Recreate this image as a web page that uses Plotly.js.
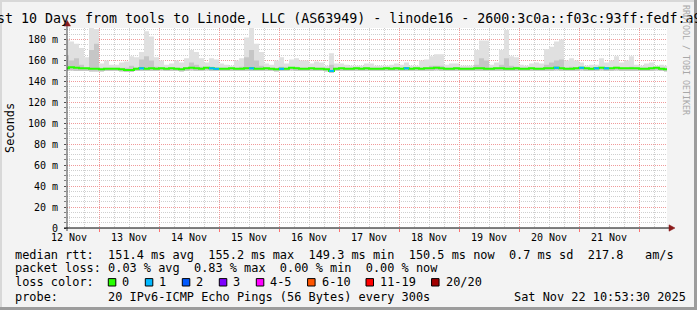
<!DOCTYPE html>
<html><head><meta charset="utf-8">
<script src="https://cdn.plot.ly/plotly-3.0.1.min.js"></script>
<style>html,body{margin:0;padding:0;background:#f3f3f3;overflow:hidden}</style>
</head><body><div id="chart" style="width:697px;height:310px"></div>
<script>
// ---------- data (2-hour buckets starting 2025-11-12 10:00) ----------
const medianRtt = [
 152.5,153.5,153,152.5,152.5,152,152,151.5,152,152,
 152,151.5,151,151,152,152.5,152,152.5,152,152.5,
 152,152.5,152,151.5,152.5,153,152.5,152,153,152.5,
 152,152,152,152.5,152,152,152.5,152.5,152,152,
 152.5,152,151.5,152,152,153,152.5,152,152,152.5,
 152,152,151.5,150,152,152.5,152,152,152.5,152,
 152.5,152,152,152,152.5,152,152.5,152,152.5,152,
 152.5,152,152.5,152.5,153,152.5,152,152,152.5,152,
 152,152,152.5,152.5,152,152,152.5,152.5,152,152,
 152.5,152,152,152.5,152,152,152.5,152.5,153,152.5,
 152,152,152.5,153,152.5,152,152.5,153,152.5,152.5,
 153,152.5,152.5,152.5,152.5,152,152,152.5,153,152,151.5];
const lowestPing = [
 150,150.5,150,150,150,149.5,149.5,149.5,150,150,
 150,149.5,149,149,150,150,150,150,150,150.5,
 150,150,150,149.5,150,150.5,150,150,150.5,150,
 150,150,150,150,150,150,150,150,150,150,
 150,150,149.5,150,150,150.5,150,150,150,150,
 150,150,149.5,148,150,150,150,150,150,150,
 150,150,150,150,150,150,150,150,150,150,
 150,150,150,150,150.5,150,150,150,150,150,
 150,150,150,150,150,150,150,150,150,150,
 150,150,150,150,150,150,150,150,150.5,150,
 150,150,150,150.5,150,150,150,150.5,150,150,
 150.5,150,150,150,150,150,150,150,150.5,150,149.5];
const innerSmokeTop = [
 165,160,162,156,153,170,176,153,153,153,
 153,153,153,155,153,161,164,160,154,153,
 153,153,153,153,153,158,156,154,153,154,
 153,153,153,153,153,154,163,170,160,155,
 153,153,153,154,153,153,154,153,153,153,
 153,153,153,156,153,153,153,153,153,153,
 153,153,153,153,153,153,153,153,153,153,
 153,153,153,155,155,155,153,153,153,153,
 153,153,156,162,160,153,153,156,162,155,
 154,153,153,153,153,153,156,158,160,161,
 153,154,153,153,153,153,153,154,153,153,
 154,153,153,154,153,153,153,153,153,153,153];
const highestPing = [
 180,178,176,172,163,191,190,157,160,156,
 156,158,159,164,163,168,188,183,163,160,
 156,157,160,158,162,170,168,162,158,162,
 161,157,156,155,160,162,182,191,176,168,
 157,156,160,163,157,161,162,160,160,157,
 159,158,155,167,157,157,156,155,155,155,
 157,157,155,155,155,156,157,156,158,155,
 155,160,161,164,166,166,156,157,157,155,
 155,155,170,179,179,156,158,170,189,164,
 163,156,155,157,158,157,171,173,178,180,
 160,162,160,158,155,156,156,162,158,160,
 164,158,160,164,156,155,157,158,155,156,155];
const lossCount = [
 0,0,0,0,0,0,0,0,0,0,
 0,0,0,0,0,1,0,0,0,0,
 0,0,0,0,0,0,0,0,0,1,
 1,0,0,0,0,0,0,1,0,0,
 0,0,0,1,0,0,0,0,0,0,
 0,0,0,1,0,0,0,0,0,0,
 0,0,0,0,0,0,0,0,1,0,
 0,0,0,0,0,0,0,0,0,0,
 0,0,0,0,0,0,0,0,0,0,
 0,0,0,0,0,0,0,0,1,0,
 0,0,0,1,0,0,1,0,1,0,
 0,0,0,0,0,0,0,0,0,0,0];
const yTickVals = [0,20,40,60,80,100,120,140,160,180];
const yTickText = ['0','20 m','40 m','60 m','80 m','100 m','120 m','140 m','160 m','180 m'];
const lossLegendLabels = ['0','1','2','3','4-5','6-10','11-19','20/20'];
const lossLegendColors = ['#26ff00','#00b8ff','#0059ff','#7e00ff','#ff00ff','#ff5500','#ff0000','#a10000'];
const titleText = 'Last 10 Days from tools to Linode, LLC (AS63949) - linode16 - 2600:3c0a::f03c:93ff:fedf:a9';
const statsLines = [
 'median rtt:  151.4 ms avg  155.2 ms max  149.3 ms min  150.5 ms now  0.7 ms sd  217.8   am/s',
 'packet loss: 0.03 % avg  0.83 % max  0.00 % min  0.00 % now',
 'loss color:',
 'probe:       20 IPv6-ICMP Echo Pings (56 Bytes) every 300s'];
const stampText = 'Sat Nov 22 10:53:30 2025';
const watermark = 'RRDTOOL / TOBI OETIKER';

// ---------- helpers ----------
const BASE = Date.UTC(2025,10,12,10,0,0), STEP = 2*3600000;
function ts(k){ return new Date(BASE + k*STEP).toISOString().slice(0,19).replace('T',' '); }
const n = medianRtt.length;
const times = []; for (let k=0;k<=n;k++) times.push(ts(k));
const close = a => a.concat([a[a.length-1]]);

const L=67, T=28, W=600, H=200;
const PX = p => (p-L)/W, PY = p => (T+H-p)/H;
const nb = s => s.replace(/ /g,'\u00a0');
const MONO = 'DejaVu Sans Mono';

function lossColor(c){
  if (c<=0) return lossLegendColors[0];
  if (c===1) return lossLegendColors[1];
  if (c===2) return lossLegendColors[2];
  if (c===3) return lossLegendColors[3];
  if (c<=5) return lossLegendColors[4];
  if (c<=10) return lossLegendColors[5];
  if (c<=19) return lossLegendColors[6];
  return lossLegendColors[7];
}

const stepLine = {shape:'hv', width:0};
const traces = [
 {x:times, y:close(lowestPing), mode:'lines', line:stepLine, hoverinfo:'skip'},
 {x:times, y:close(highestPing), mode:'lines', line:stepLine, fill:'tonexty', fillcolor:'#e0e0e0', hoverinfo:'skip'},
 {x:times, y:close(lowestPing), mode:'lines', line:stepLine, hoverinfo:'skip'},
 {x:times, y:close(innerSmokeTop), mode:'lines', line:stepLine, fill:'tonexty', fillcolor:'#c6c6c6', hoverinfo:'skip'},
 {x:times, y:close(medianRtt), mode:'lines', line:{shape:'hv', width:2, color:lossLegendColors[0]}, hoverinfo:'skip'}
];
const segs = {};
lossCount.forEach((c,k)=>{
  if (c>0){
    const col = lossColor(c);
    segs[col] = segs[col] || {x:[],y:[]};
    segs[col].x.push(times[k], times[k+1], null);
    segs[col].y.push(medianRtt[k], medianRtt[k], null);
  }
});
Object.keys(segs).forEach(col=>traces.push({x:segs[col].x, y:segs[col].y, mode:'lines', line:{width:2,color:col}, hoverinfo:'skip', connectgaps:false}));

// ---------- annotations ----------
const anns = [];
function ann(px, py, text, o){
  anns.push(Object.assign({xref:'paper', yref:'paper', x:PX(px), y:PY(py), text:nb(text), showarrow:false,
    xanchor:'left', yanchor:'middle', borderpad:0, font:{family:MONO, size:11.9, color:'#000'}}, o||{}));
}
ann(-20.5, 18.5, titleText, {font:{family:MONO, size:13.3, color:'#000'}});
ann(10, 128, 'Seconds', {xanchor:'center', textangle:-90});
ann(686, 60, watermark, {xanchor:'center', textangle:90, font:{family:MONO, size:8.3, color:'#a8a8a8'}});
const lineY = [254.5, 268, 282.3, 296.5];
statsLines.forEach((s,i)=>ann(13.5, lineY[i], s));
ann(513, lineY[3], stampText);

// ---------- shapes ----------
const shapes = [];
function rect(x0,y0,x1,y1,fill,lineCol,lw){
  shapes.push({type:'rect', xref:'paper', yref:'paper', x0:PX(x0), x1:PX(x1), y0:PY(y1), y1:PY(y0),
    fillcolor:fill, line:{color:lineCol||fill, width:lw||0}, layer:'above'});
}
// frame
rect(0,0,697,2,'#d8d8d8');
rect(0,0,2,310,'#d8d8d8');
rect(694,0,697,310,'#9c9c9c');
rect(0,307,697,310,'#9c9c9c');
// axis arrows
function path(pts, col){
  const d = pts.map((p,i)=>(i?'L':'M')+PX(p[0])+','+PY(p[1])).join(' ')+' Z';
  shapes.push({type:'path', xref:'paper', yref:'paper', path:d, fillcolor:col, line:{color:col, width:0.5}, layer:'above'});
}
shapes.push({type:'line', xref:'paper', yref:'paper', x0:PX(67), x1:PX(67), y0:PY(231), y1:PY(25), line:{color:'#404040', width:1}});
shapes.push({type:'line', xref:'paper', yref:'paper', x0:PX(64), x1:PX(671), y0:PY(228), y1:PY(228), line:{color:'#000', width:1}});
path([[64,26],[70.5,26],[67.2,20.5]], '#8b1a1a');
path([[669,224.8],[669,231.2],[675,228]], '#8b1a1a');
// loss legend boxes + labels
let bx = 108.3;
lossLegendLabels.forEach((lab,i)=>{
  rect(bx, 278.6, bx+7.5, 286, lossLegendColors[i], '#000', 1);
  ann(bx+13, lineY[2], lab);
  bx += 37 + (lab.length-1)*7.14;
});

const layout = {
  width:697, height:310,
  margin:{l:L, r:697-L-W, t:T, b:310-T-H, pad:0},
  paper_bgcolor:'#f3f3f3', plot_bgcolor:'#ffffff',
  showlegend:false,
  font:{family:MONO, size:10, color:'#000'},
  xaxis:{type:'date', range:['2025-11-12 11:12','2025-11-22 11:12'], tick0:'2025-11-12', dtick:86400000,
    tickformat:'%d %b', ticklabelmode:'period', showgrid:true, gridcolor:'#f09a9a', griddash:'1px,1px', gridwidth:1,
    ticks:'outside', ticklen:3, tickcolor:'#ff7070', showline:false, zeroline:false, ticklabelstandoff:-3,
    minor:{dtick:6*3600000, tick0:'2025-11-12', showgrid:true, gridcolor:'#cfcfcf', griddash:'1px,1px', ticks:''},
    tickfont:{family:MONO, size:10, color:'#000'}, fixedrange:true},
  yaxis:{range:[0,191], tickmode:'array', tickvals:yTickVals, ticktext:yTickText, showgrid:true, gridcolor:'#f09a9a',
    griddash:'1px,1px', ticks:'outside', ticklen:2, tickcolor:'#505050', showline:false, zeroline:false,
    ticklabelstandoff:4,
    minor:{tickmode:'linear', tick0:0, dtick:5, showgrid:true, gridcolor:'#cfcfcf', griddash:'1px,1px', ticks:'outside', ticklen:2, tickcolor:'#808080'},
    tickfont:{family:MONO, size:10, color:'#000'}, fixedrange:true},
  annotations:anns, shapes:shapes
};
Plotly.newPlot('chart', traces, layout, {staticPlot:true, displayModeBar:false});
</script></body></html>
